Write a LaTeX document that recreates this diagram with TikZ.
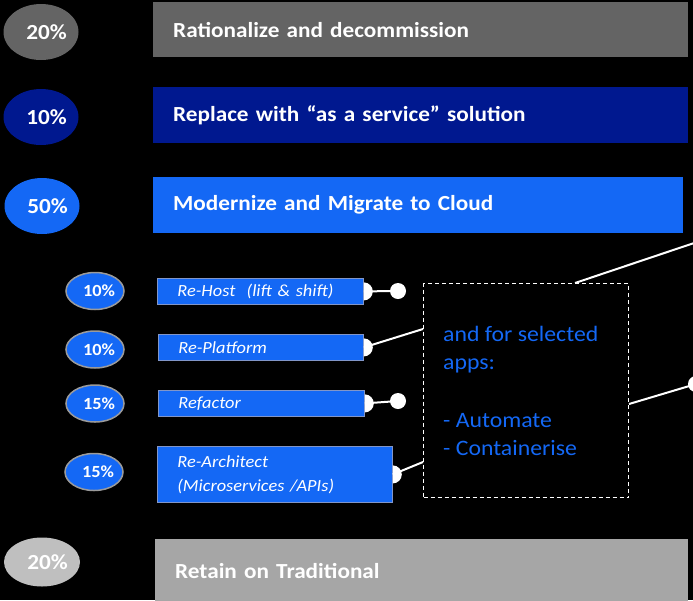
\documentclass[tikz,border=0pt]{standalone}
\usepackage{fontspec}
\setmainfont{Carlito}[FakeStretch=1.08]
\usetikzlibrary{shapes.geometric}
\definecolor{gA}{RGB}{100,100,100}
\definecolor{navy}{RGB}{0,24,143}
\definecolor{bblue}{RGB}{20,104,245}
\definecolor{gB}{RGB}{191,191,191}
\definecolor{gC}{RGB}{166,166,166}
\definecolor{ringgray}{RGB}{155,155,155}
\definecolor{sborder}{RGB}{130,150,200}
\begin{document}
\begin{tikzpicture}[x=1pt,y=-1pt,
  bar/.style={rectangle, anchor=north west, inner xsep=20pt, inner ysep=0pt, align=left, text=white, font=\bfseries\fontsize{21.5}{26}\selectfont},
  big/.style={ellipse, minimum width=75pt, minimum height=56pt, inner sep=0pt, text=white, font=\bfseries\fontsize{21.5}{26}\selectfont},
  small/.style={ellipse, fill=bblue, draw=ringgray, line width=1.5pt, minimum width=58pt, minimum height=37pt, inner sep=0pt, text=white, font=\bfseries\fontsize{17}{20}\selectfont},
  sub/.style={rectangle, anchor=north west, fill=bblue, draw=sborder, line width=0.8pt, inner xsep=20pt, inner ysep=0pt, align=left, text=white, font=\itshape\fontsize{17}{24}\selectfont},
  conn/.style={draw=white, line width=2pt},
  dotnode/.style={circle, fill=white, minimum size=16pt, inner sep=0pt},
  halfdot/.style={fill=white},
  bluetext/.style={anchor=base west, text=bblue, font=\fontsize{22}{28}\selectfont, inner sep=0pt}
]
\useasboundingbox (0,0) rectangle (693,600);
\clip (0,0) rectangle (693,600);
\fill[black] (0,0) rectangle (693,600);

% main bars
\node[bar, fill=gA, text width=495pt, minimum height=55pt] (r1) at (153,2) {Rationalize and decommission};
\node[bar, fill=navy, text width=495pt, minimum height=56pt] (r2) at (153,87) {Replace with “as a service” solution};
\node[bar, fill=bblue, text width=490pt, minimum height=56pt] (r3) at (153,177) {Modernize and Migrate to Cloud};
\node[bar, fill=gC, text width=493pt, minimum height=64pt] (r4) at (155,539) {Retain on Traditional};

% big percentage ellipses
\node[big, fill=gA] (c1) at (41,32) {\hspace*{11pt}20\%};
\node[big, fill=navy] (c2) at (41,117) {\hspace*{11pt}10\%};
\node[big, fill=bblue] (c3) at (42,206) {\hspace*{11pt}50\%};
\node[big, fill=gB, minimum width=76pt, minimum height=49pt] (c4) at (42,562) {\hspace*{11pt}20\%};

% sub steps
\node[sub, text width=166pt, minimum height=26pt] (s1) at (157,278) {Re-Host\ \ (lift \& shift)};
\node[sub, text width=165pt, minimum height=26pt] (s2) at (158,334) {Re-Platform};
\node[sub, text width=166pt, minimum height=26pt] (s3) at (158,390) {Refactor};
\node[sub, text width=195pt, minimum height=56pt] (s4) at (157,446) {Re-Architect\\(Microservices /APIs)};

% small percentage ellipses
\node[small] (e1) at (95,291) {\hspace*{8pt}10\%};
\node[small] (e2) at (95,349.5) {\hspace*{8pt}10\%};
\node[small] (e3) at (95,403.5) {\hspace*{8pt}15\%};
\node[small] (e4) at (94,472) {\hspace*{8pt}15\%};

% dashed box
\node[draw=white, dash pattern=on 4pt off 3pt, line width=1pt, minimum width=205pt, minimum height=214pt, anchor=north west, inner sep=0pt] (box) at (423,283) {};
\node[bluetext] (t1) at (443,341) {and for selected};
\node[bluetext] (t2) at (443,369.5) {apps:};
\node[bluetext] (t3) at (443,427) {- Automate};
\node[bluetext] (t4) at (443,455.5) {- Containerise};

% connector points
\node[dotnode] (d1) at (398,291) {};
\node[dotnode] (d2) at (398,401) {};
\node[dotnode] (d3) at (696,384) {};
\coordinate (bl1) at ([yshift=-46pt]box.north west);
\coordinate (bl2) at ([yshift=-179pt]box.north west);
\coordinate (bt) at ([xshift=152pt]box.north west);
\coordinate (br) at ([yshift=-121pt]box.north east);
\coordinate (far) at (712,237);

% half dots on bar edges
\foreach \n in {s1,s2,s3,s4}{
  \fill[halfdot] ([yshift=9pt]\n.east) arc[start angle=90, end angle=-90, radius=9pt] -- cycle;
}

% connectors
\draw[conn] (s1.east) -- (d1.center);
\draw[conn] (s2.east) -- (bl1);
\draw[conn] (s3.east) -- (d2.center);
\draw[conn] (s4.east) -- (bl2);
\draw[conn] (bt) -- (far);
\draw[conn] (br) -- (d3.center);
\end{tikzpicture}
\end{document}
